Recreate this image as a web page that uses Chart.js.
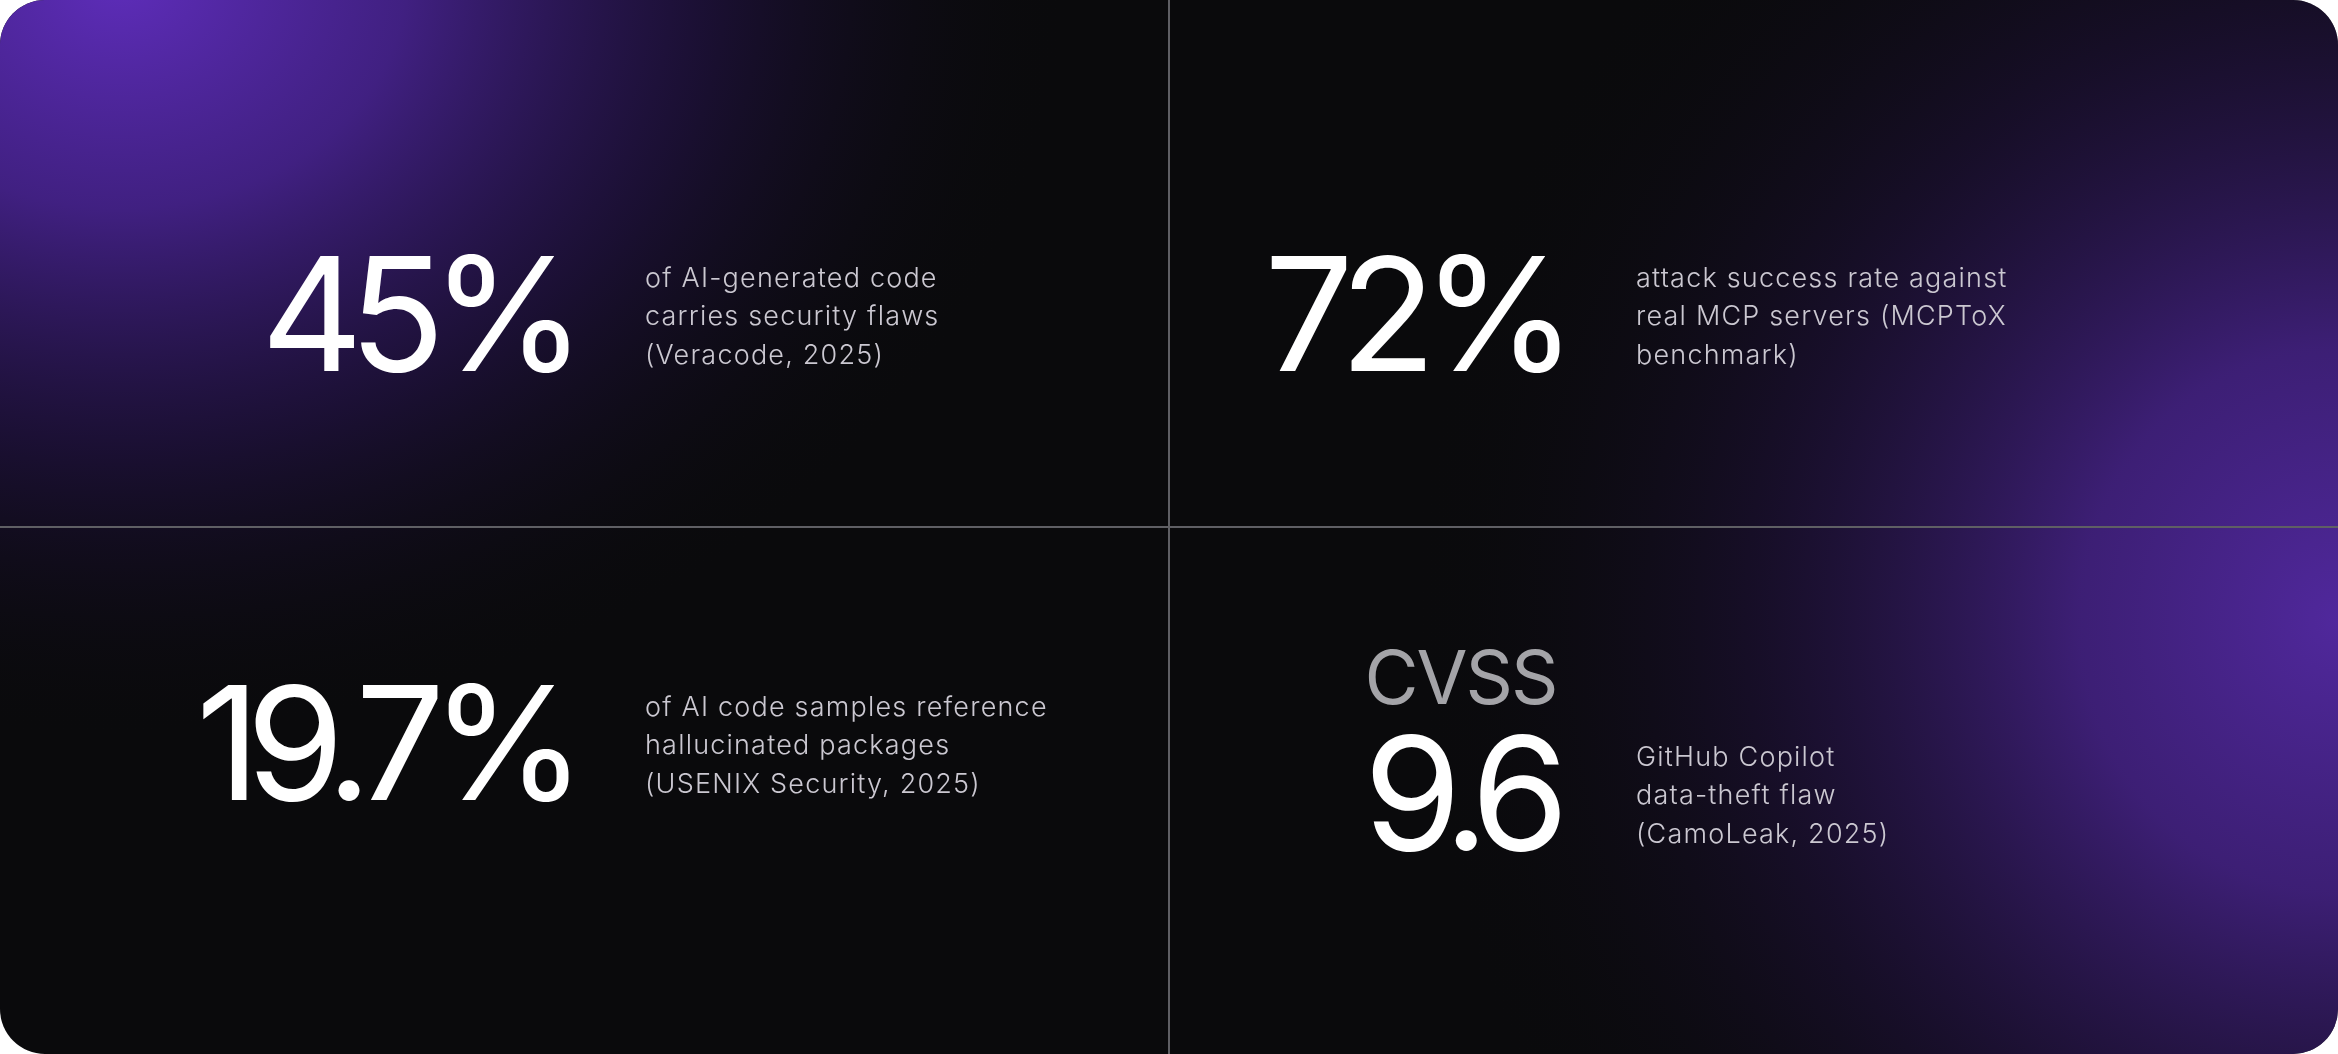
<!DOCTYPE html>
<html>
<head>
<meta charset="utf-8">
<script src="https://cdn.jsdelivr.net/npm/chart.js@4.4.1/dist/chart.umd.min.js"></script>
<style>
  html, body { margin: 0; padding: 0; background: #ffffff; }
  #wrap { width: 2338px; height: 1054px; position: relative; }
</style>
</head>
<body>
<div id="wrap"><canvas id="statsChart"></canvas></div>
<script>
// grid cell of each stat (column, row)
const statCols = [0, 1, 0, 1];
const statRows = [0, 0, 1, 1];
const statValues = ['45%', '72%', '19.7%', '9.6'];
const statPrefixes = ['', '', '', 'CVSS'];
const statNotes = [
    ['of AI-generated code', 'carries security flaws', '(Veracode, 2025)'],
    ['attack success rate against', 'real MCP servers (MCPToX', 'benchmark)'],
    ['of AI code samples reference', 'hallucinated packages', '(USENIX Security, 2025)'],
    ['GitHub Copilot', 'data-theft flaw', '(CamoLeak, 2025)']
];

const ctx = document.getElementById('statsChart').getContext('2d');

// rounded dark card with the two purple glows
const cardBackground = {
    id: 'cardBackground',
    beforeDraw(chart) {
        const c = chart.ctx;
        const w = chart.width, h = chart.height;
        c.save();
        c.beginPath();
        c.roundRect(0, 0, w, h, 45);
        c.clip();
        c.fillStyle = '#0a0a0c';
        c.fillRect(0, 0, w, h);

        // top-left glow
        c.save();
        c.translate(120, -20);
        c.scale(1, 0.8);
        let g = c.createRadialGradient(0, 0, 0, 0, 0, 950);
        g.addColorStop(0, 'rgba(94, 45, 186, 1)');
        g.addColorStop(0.3, 'rgba(74, 36, 150, 0.85)');
        g.addColorStop(0.62, 'rgba(40, 20, 82, 0.55)');
        g.addColorStop(1, 'rgba(10, 10, 12, 0)');
        c.fillStyle = g;
        c.fillRect(-200, -200, 1400, 1600);
        c.restore();

        // bottom-right glow
        c.save();
        c.translate(2338, 620);
        c.scale(1, 1.05);
        g = c.createRadialGradient(0, 0, 0, 0, 0, 930);
        g.addColorStop(0, 'rgba(80, 40, 156, 1)');
        g.addColorStop(0.28, 'rgba(66, 33, 128, 0.9)');
        g.addColorStop(0.62, 'rgba(34, 18, 64, 0.55)');
        g.addColorStop(1, 'rgba(10, 10, 12, 0)');
        c.fillStyle = g;
        c.fillRect(-1100, -1000, 1200, 1600);
        c.restore();

        c.restore();
    }
};

// draw text so that its ink ends exactly at x
function fillRightInk(c, text, x, y) {
    c.textAlign = 'left';
    const m = c.measureText(text);
    c.fillText(text, x - m.actualBoundingBoxRight, y);
}

// big figures and their notes, anchored on each cell's point
const statLabels = {
    id: 'statLabels',
    afterDatasetsDraw(chart) {
        const c = chart.ctx;
        const meta = chart.getDatasetMeta(0);
        const colShift = [-15.5, -193.5];
        const rowShift = [50, -48];
        c.save();
        c.textBaseline = 'alphabetic';
        meta.data.forEach((pt, i) => {
            const right = pt.x + colShift[statCols[i]];
            const center = pt.y + rowShift[statRows[i]];
            const prefix = statPrefixes[i];
            const base = center + 57 + (prefix ? 50 : 0);

            c.fillStyle = '#ffffff';
            c.font = '400 158px Inter';
            c.letterSpacing = '-14px';
            fillRightInk(c, statValues[i], right, base);

            if (prefix) {
                c.fillStyle = '#a4a4a8';
                c.font = '400 74px Inter';
                c.letterSpacing = '-2px';
                fillRightInk(c, prefix, right - 5, base - 146);
            }

            c.textAlign = 'left';
            c.fillStyle = '#cbc8d1';
            c.font = '300 27px Inter';
            c.letterSpacing = '1.2px';
            const lines = statNotes[i];
            const last = base - 7;
            lines.forEach((line, j) => {
                c.fillText(line, right + 76, last - (lines.length - 1 - j) * 38.5);
            });
        });
        c.restore();
    }
};

const gridColor = (context) => context.tick && context.tick.value === 1 ? '#5f5f64' : 'rgba(0,0,0,0)';

const statsChart = new Chart(ctx, {
    type: 'scatter',
    data: {
        datasets: [{
            data: statCols.map((col, i) => ({ x: col + 0.5, y: statRows[i] + 0.5 })),
            pointRadius: 0,
            pointHoverRadius: 0
        }]
    },
    options: {
        responsive: true,
        maintainAspectRatio: false,
        animation: false,
        layout: { padding: 0 },
        scales: {
            x: {
                type: 'linear',
                min: 0,
                max: 2,
                ticks: { display: false, stepSize: 1 },
                grid: { color: gridColor, lineWidth: 2, drawTicks: false },
                border: { display: false }
            },
            y: {
                type: 'linear',
                min: 0,
                max: 2,
                reverse: true,
                ticks: { display: false, stepSize: 1 },
                grid: { color: gridColor, lineWidth: 2, drawTicks: false },
                border: { display: false }
            }
        },
        plugins: {
            legend: { display: false },
            tooltip: { enabled: false }
        }
    },
    plugins: [cardBackground, statLabels]
});
</script>
</body>
</html>
